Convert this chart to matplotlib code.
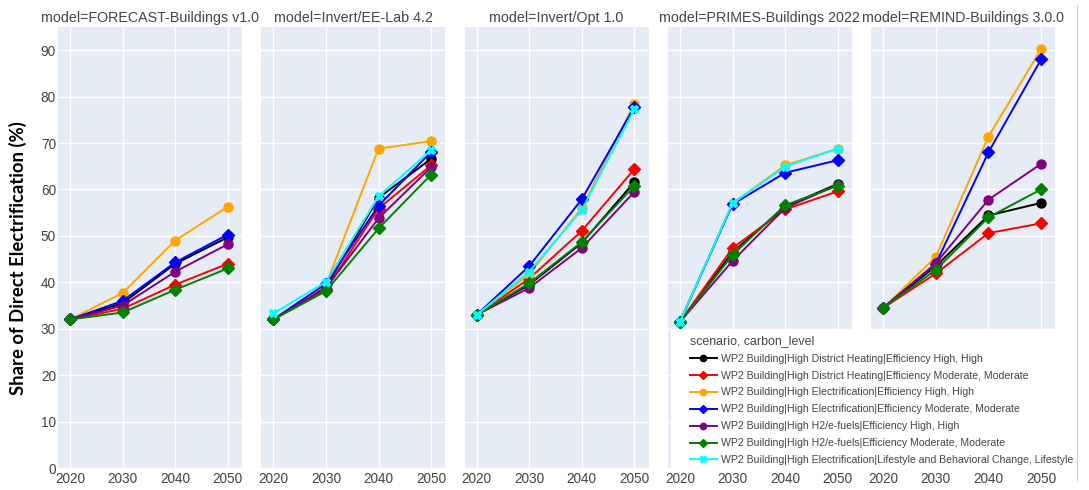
import matplotlib
matplotlib.use("Agg")
import matplotlib.pyplot as plt
from matplotlib.lines import Line2D
from matplotlib.patches import Rectangle
import numpy as np

plt.rcParams['font.family'] = ['Liberation Sans', 'DejaVu Sans']

years = [2020, 2030, 2040, 2050]
models = ["FORECAST-Buildings v1.0", "Invert/EE-Lab 4.2", "Invert/Opt 1.0",
          "PRIMES-Buildings 2022", "REMIND-Buildings 3.0.0"]

series_names = [
    "WP2 Building|High District Heating|Efficiency High, High",
    "WP2 Building|High District Heating|Efficiency Moderate, Moderate",
    "WP2 Building|High Electrification|Efficiency High, High",
    "WP2 Building|High Electrification|Efficiency Moderate, Moderate",
    "WP2 Building|High H2/e-fuels|Efficiency High, High",
    "WP2 Building|High H2/e-fuels|Efficiency Moderate, Moderate",
    "WP2 Building|High Electrification|Lifestyle and Behavioral Change, Lifestyle",
]
series_colors = ["black", "red", "orange", "blue", "purple", "green", "cyan"]
series_markers = ["o", "D", "o", "D", "o", "D", "X"]

# values per model (rows) for each year (columns)
dh_high = [[32.0, 35.5, 44.0, 49.7], [32.0, 39.0, 58.2, 66.6], [33.0, 39.5, 48.5, 61.6],
           [31.5, 46.5, 56.3, 61.2], [34.5, 43.5, 54.4, 57.1]]
dh_mod = [[32.0, 34.3, 39.5, 44.0], [32.0, 38.5, 55.9, 65.2], [33.0, 40.8, 51.1, 64.4],
          [31.5, 47.4, 55.7, 59.6], [34.5, 41.9, 50.6, 52.7]]
el_high = [[32.0, 37.7, 49.0, 56.3], [32.0, 39.5, 68.8, 70.4], [33.0, 41.8, 56.0, 78.5],
           [31.5, 57.0, 65.2, 68.8], [34.5, 45.5, 71.4, 90.2]]
el_mod = [[32.0, 36.0, 44.3, 50.3], [32.0, 39.7, 56.5, 68.1], [33.0, 43.5, 57.9, 77.8],
          [31.5, 56.8, 63.6, 66.3], [34.5, 44.0, 68.0, 88.0]]
h2_high = [[32.0, 35.0, 42.3, 48.2], [32.0, 38.8, 53.8, 64.8], [33.0, 38.8, 47.4, 59.5],
           [31.5, 44.6, 56.0, 61.0], [34.5, 44.1, 57.8, 65.5]]
h2_mod = [[32.0, 33.5, 38.4, 43.0], [32.0, 38.1, 51.6, 63.2], [33.0, 39.8, 48.7, 60.8],
          [31.5, 45.9, 56.6, 60.8], [34.5, 42.7, 54.0, 60.0]]
el_life = [[None] * 4, [33.3, 40.1, 58.5, 68.5], [33.0, 42.3, 55.6, 77.3],
           [31.5, 57.0, 64.9, 68.8], [None] * 4]

all_series = [dh_high, dh_mod, el_high, el_mod, h2_high, h2_mod, el_life]

W, H = 1089, 490
fig = plt.figure(figsize=(W / 100, H / 100), dpi=100)

bg = "#E5ECF6"
text_col = "#444444"
panel_left0 = 58
panel_step = 203.3
panel_w = 184
panel_top = 27
panel_bottom = 468

axes = []
for i, m in enumerate(models):
    left = panel_left0 + i * panel_step
    ax = fig.add_axes([left / W, 1 - panel_bottom / H, panel_w / W,
                       (panel_bottom - panel_top) / H])
    ax.set_facecolor(bg)
    for sp in ax.spines.values():
        sp.set_visible(False)
    ax.set_xlim(2017.7, 2052.7)
    ax.set_ylim(0, 95)
    ax.set_xticks(years)
    ax.set_yticks(np.arange(0, 91, 10))
    ax.grid(True, color="white", linewidth=1.0)
    ax.set_axisbelow(True)
    ax.tick_params(length=0, labelsize=9.8, colors=text_col)
    ax.tick_params(axis="x", pad=3)
    ax.tick_params(axis="y", pad=1.5)
    if i > 0:
        ax.tick_params(labelleft=False)
    ax.set_title("model=" + m, fontsize=10.3, color=text_col, pad=3.5)
    for s, data in enumerate(all_series):
        vals = [np.nan if v is None else v for v in data[i]]
        ax.plot(years, vals, color=series_colors[s], marker=series_markers[s],
                markersize=6.5 if series_markers[s] == "o" else 6,
                linewidth=1.4, clip_on=False, zorder=3 + s)
    axes.append(ax)

fig.text(18 / W, 1 - 258 / H, "Share of Direct Electrification (%)", rotation=90,
         ha="center", va="center", fontsize=13.3, fontweight="bold",
         family=["Lato", "DejaVu Sans"], color="black")

# white legend background area
fig.add_artist(Rectangle((671 / W, 1 - 468 / H), (1077 - 671) / W, (468 - 330) / H,
                         transform=fig.transFigure, facecolor="white",
                         edgecolor="none", zorder=15))

handles = [Line2D([0], [0], color=series_colors[s], marker=series_markers[s],
                  markersize=4.5, linewidth=1.4) for s in range(len(series_names))]
leg = fig.legend(handles, series_names, title="scenario, carbon_level",
                 loc="upper left", bbox_to_anchor=(686 / W, 1 - 331 / H),
                 frameon=False, fontsize=7.55, title_fontsize=8.9,
                 handlelength=2.6, handletextpad=0.4, labelspacing=0.66,
                 borderpad=0.35, borderaxespad=0, alignment="left")
for t in leg.get_texts():
    t.set_color(text_col)
leg.get_title().set_color(text_col)
leg.set_zorder(20)

fig.add_artist(Line2D([1077 / W, 1077 / W], [0.02, 0.99], color="#CCCCCC",
                      linewidth=0.8, transform=fig.transFigure))

fig.savefig("out.png", dpi=100, facecolor="white")
